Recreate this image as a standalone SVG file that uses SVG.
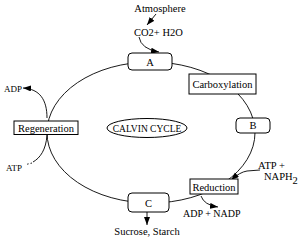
<svg xmlns="http://www.w3.org/2000/svg" width="303" height="245" viewBox="0 0 303 245">
<style>
  .t { font-family: "Liberation Serif", "Times New Roman", serif; font-size: 10.5px; fill: #000; }
  .s { font-size: 9px; }
  .m { text-anchor: middle; }
  .box { fill: #fff; stroke: #000; stroke-width: 1; }
  .ln { fill: none; stroke: #000; stroke-width: 0.9; }
</style>
<defs>
  <marker id="ah" markerUnits="userSpaceOnUse" markerWidth="9" markerHeight="7" refX="8" refY="3" orient="auto">
    <path d="M0,0 L8,3 L0,6 z" fill="#000"/>
  </marker>
</defs>
<rect width="303" height="245" fill="#fff"/>
<g id="connectors">
  <ellipse class="ln" cx="151" cy="132.5" rx="104" ry="70.5"/>
  <path class="ln" d="M156,14 L147,25" marker-end="url(#ah)"/>
  <path class="ln" d="M139,37 Q141,49 159,52" marker-end="url(#ah)"/>
  <path class="ln" d="M47,118 C47,100 40,89 23,88" marker-end="url(#ah)"/>
  <path class="ln" d="M47,135 C46,150 40,158 33,162"/>
  <path class="ln" d="M32,163 L26,164.5" stroke-dasharray="1.5,2"/>
  <path class="ln" d="M260,170 L247,171 Q240,172 231,180" marker-end="url(#ah)"/>
  <path class="ln" d="M201,196 Q204,205 218,207" marker-end="url(#ah)"/>
  <path class="ln" d="M147,212 L147,225" marker-end="url(#ah)"/>
</g>
<g id="atmosphere"><text class="t m" x="160" y="11.5">Atmosphere</text></g>
<g id="co2"><text class="t" x="134" y="36">CO2+ H2O</text></g>
<g id="nodeA">
  <rect class="box" x="128" y="53" width="44" height="17" rx="4"/>
  <text class="t m" x="150" y="65.5">A</text>
</g>
<g id="carboxylation">
  <rect class="box" x="189" y="74" width="67" height="20"/>
  <text class="t m" x="222.5" y="88">Carboxylation</text>
</g>
<g id="nodeB">
  <rect class="box" x="236" y="118" width="34" height="15" rx="4"/>
  <text class="t m" x="253" y="129">B</text>
</g>
<g id="regeneration">
  <rect class="box" x="14" y="121" width="64" height="13.5"/>
  <text class="t m" x="46" y="131.5">Regeneration</text>
</g>
<g id="calvin">
  <ellipse class="box" cx="147" cy="128" rx="40" ry="9.5"/>
  <text class="t m" x="147" y="131.5" style="font-size:9.5px">CALVIN CYCLE</text>
</g>
<g id="reduction">
  <rect class="box" x="190" y="179" width="48" height="15"/>
  <text class="t m" x="214" y="190.5">Reduction</text>
</g>
<g id="nodeC">
  <rect class="box" x="128" y="193" width="41" height="19" rx="4"/>
  <text class="t m" x="148.5" y="207">C</text>
</g>
<g id="adp"><text class="t s" x="4" y="91.5">ADP</text></g>
<g id="atp"><text class="t s" x="6" y="170.5">ATP</text></g>
<g id="atpnaph">
  <text class="t" x="258" y="168.5">ATP +</text>
  <text class="t" x="264" y="180">NAPH<tspan dy="3.5">2</tspan></text>
</g>
<g id="adpnadp"><text class="t" x="183" y="217" style="font-size:10px">ADP + NADP</text></g>
<g id="sucrose"><text class="t m" x="147" y="235">Sucrose, Starch</text></g>
</svg>
